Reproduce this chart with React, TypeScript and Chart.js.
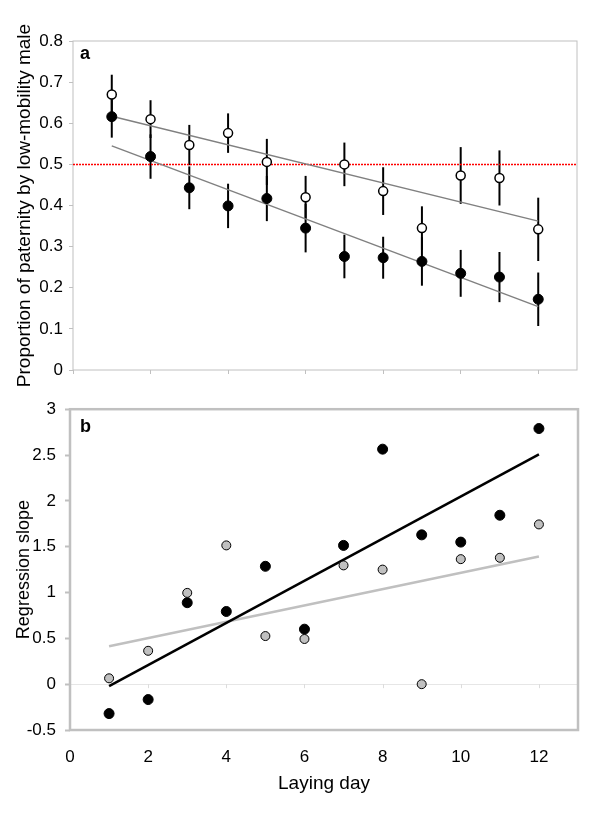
import React, { useEffect, useRef } from 'react';
import { Chart, registerables } from 'chart.js';

Chart.register(...registerables);

// ---------- data ----------
const days = [1, 2, 3, 4, 5, 6, 7, 8, 9, 10, 11, 12];

// panel a
const openMean = [0.670, 0.610, 0.547, 0.576, 0.506, 0.420, 0.500, 0.435, 0.345, 0.473, 0.467, 0.342];
const openErr = [0.048, 0.046, 0.049, 0.048, 0.056, 0.052, 0.053, 0.058, 0.053, 0.069, 0.067, 0.077];
const filledMean = [0.616, 0.519, 0.443, 0.399, 0.417, 0.345, 0.276, 0.273, 0.264, 0.235, 0.226, 0.172];
const filledErr = [0.051, 0.054, 0.052, 0.054, 0.055, 0.059, 0.053, 0.051, 0.059, 0.057, 0.061, 0.065];
const trendDays = [1, 12];
const openTrend = [0.617, 0.362];
const filledTrend = [0.545, 0.154];
const refLineX = [0, 13];
const refLineY = [0.5, 0.5];
const yTicksA = [0, 0.1, 0.2, 0.3, 0.4, 0.5, 0.6, 0.7, 0.8];

// panel b
const greySlope = [0.064, 0.364, 0.996, 1.514, 0.525, 0.493, 1.296, 1.25, 0.0, 1.364, 1.379, 1.743];
const blackSlope = [-0.321, -0.168, 0.889, 0.793, 1.286, 0.6, 1.514, 2.564, 1.629, 1.55, 1.843, 2.789];
const blackTrend = [-0.021, 2.507];
const greyTrend = [0.414, 1.393];
const yTicksB = [-0.5, 0, 0.5, 1, 1.5, 2, 2.5, 3];
const xTicks = [0, 2, 4, 6, 8, 10, 12];

const FONT = '"Liberation Sans", Arial, Helvetica, sans-serif';

const pts = (xs: number[], ys: number[]) => xs.map((x, i) => ({ x, y: ys[i] }));

function boxPlugin(width: number, label: string, dx: number, dy: number) {
  return {
    id: 'box_' + label,
    beforeDatasetsDraw(chart: any) {
      const { ctx, chartArea } = chart;
      ctx.save();
      ctx.strokeStyle = '#c0c0c0';
      ctx.lineWidth = width;
      ctx.strokeRect(chartArea.left, chartArea.top, chartArea.right - chartArea.left, chartArea.bottom - chartArea.top);
      ctx.fillStyle = '#000';
      ctx.font = 'bold 18px ' + FONT;
      ctx.textBaseline = 'alphabetic';
      ctx.textAlign = 'left';
      ctx.fillText(label, chartArea.left + dx, chartArea.top + dy);
      ctx.restore();
    },
  };
}

const errorBarPlugin = {
  id: 'errorBars',
  beforeDatasetsDraw(chart: any) {
    const { ctx } = chart;
    const xs = chart.scales.x;
    const ys = chart.scales.y;
    ctx.save();
    ctx.strokeStyle = '#000';
    ctx.lineWidth = 2;
    const series = [
      { m: openMean, e: openErr },
      { m: filledMean, e: filledErr },
    ];
    series.forEach((s) => {
      days.forEach((d, i) => {
        const px = xs.getPixelForValue(d);
        ctx.beginPath();
        ctx.moveTo(px, ys.getPixelForValue(s.m[i] - s.e[i]));
        ctx.lineTo(px, ys.getPixelForValue(s.m[i] + s.e[i]));
        ctx.stroke();
      });
    });
    ctx.restore();
  },
};

const zeroAxisPlugin = {
  id: 'zeroAxis',
  beforeDatasetsDraw(chart: any) {
    const { ctx } = chart;
    const xs = chart.scales.x;
    const ys = chart.scales.y;
    const y0 = ys.getPixelForValue(0);
    ctx.save();
    ctx.strokeStyle = '#dcdcdc';
    ctx.lineWidth = 1;
    xTicks.forEach((v) => {
      if (v === 0) return;
      const px = Math.round(xs.getPixelForValue(v)) + 0.5;
      ctx.beginPath();
      ctx.moveTo(px, y0);
      ctx.lineTo(px, y0 + 4);
      ctx.stroke();
    });
    ctx.restore();
  },
};

function TopChart() {
  const ref = useRef<HTMLCanvasElement>(null);
  useEffect(() => {
    const chart = new Chart(ref.current as HTMLCanvasElement, {
      type: 'scatter',
      data: {
        datasets: [
          {
            label: 'open',
            data: pts(days, openMean),
            pointRadius: 4.5,
            pointBackgroundColor: '#ffffff',
            pointBorderColor: '#000000',
            pointBorderWidth: 1.5,
            order: 0,
          },
          {
            label: 'filled',
            data: pts(days, filledMean),
            pointRadius: 5,
            pointBackgroundColor: '#000000',
            pointBorderColor: '#000000',
            pointBorderWidth: 1,
            order: 1,
          },
          {
            label: 'openTrend',
            data: pts(trendDays, openTrend),
            showLine: true,
            borderColor: '#808080',
            borderWidth: 1.5,
            pointRadius: 0,
            order: 2,
          },
          {
            label: 'filledTrend',
            data: pts(trendDays, filledTrend),
            showLine: true,
            borderColor: '#808080',
            borderWidth: 1.5,
            pointRadius: 0,
            order: 3,
          },
          {
            label: 'half',
            data: pts(refLineX, refLineY),
            showLine: true,
            borderColor: '#ff0000',
            borderWidth: 1.5,
            borderDash: [2, 1],
            pointRadius: 0,
            order: 4,
          },
        ],
      } as any,
      options: {
        animation: false,
        responsive: false,
        events: [],
        layout: { padding: { top: 41, right: 23, left: 0, bottom: 0 } },
        plugins: { legend: { display: false }, tooltip: { enabled: false } },
        scales: {
          x: {
            type: 'linear',
            min: 0,
            max: 13,
            afterBuildTicks: (s: any) => {
              s.ticks = xTicks.map((v) => ({ value: v }));
            },
            ticks: { display: false },
            grid: { drawOnChartArea: false, drawTicks: true, tickLength: 4, color: '#c0c0c0', lineWidth: 1 },
            border: { display: false },
            afterFit: (s: any) => {
              s.height = 20;
            },
          },
          y: {
            type: 'linear',
            min: 0,
            max: 0.8,
            afterBuildTicks: (s: any) => {
              s.ticks = yTicksA.map((v) => ({ value: v }));
            },
            ticks: {
              font: { family: FONT, size: 17 },
              color: '#000',
              padding: 6,
              callback: (v: any) => String(v),
            },
            grid: { drawOnChartArea: false, drawTicks: true, tickLength: 4, color: '#c0c0c0', lineWidth: 1 },
            border: { display: false },
            title: {
              display: true,
              text: 'Proportion of paternity by low-mobility male',
              font: { family: FONT, size: 19 },
              color: '#000',
              padding: { top: 13, bottom: 0 },
            },
            afterFit: (s: any) => {
              s.width = 73;
            },
          },
        },
      } as any,
      plugins: [boxPlugin(1, 'a', 7, 18), errorBarPlugin],
    });
    return () => chart.destroy();
  }, []);
  return <canvas ref={ref} width={600} height={390} style={{ display: 'block', width: 600, height: 390 }} />;
}

function BottomChart() {
  const ref = useRef<HTMLCanvasElement>(null);
  useEffect(() => {
    const chart = new Chart(ref.current as HTMLCanvasElement, {
      type: 'scatter',
      data: {
        datasets: [
          {
            label: 'black',
            data: pts(days, blackSlope),
            pointRadius: 5,
            pointBackgroundColor: '#000000',
            pointBorderColor: '#000000',
            pointBorderWidth: 1,
            order: 1,
          },
          {
            label: 'grey',
            data: pts(days, greySlope),
            pointRadius: 4.5,
            pointBackgroundColor: '#c0c0c0',
            pointBorderColor: '#000000',
            pointBorderWidth: 1,
            order: 0,
          },
          {
            label: 'blackTrend',
            data: pts(trendDays, blackTrend),
            showLine: true,
            borderColor: '#000000',
            borderWidth: 2.5,
            pointRadius: 0,
            order: 2,
          },
          {
            label: 'greyTrend',
            data: pts(trendDays, greyTrend),
            showLine: true,
            borderColor: '#c0c0c0',
            borderWidth: 2.5,
            pointRadius: 0,
            order: 3,
          },
        ],
      } as any,
      options: {
        animation: false,
        responsive: false,
        events: [],
        layout: { padding: { top: 14, right: 22, left: 0, bottom: 0 } },
        plugins: { legend: { display: false }, tooltip: { enabled: false } },
        scales: {
          x: {
            type: 'linear',
            min: 0,
            max: 13,
            afterBuildTicks: (s: any) => {
              s.ticks = xTicks.map((v) => ({ value: v }));
            },
            ticks: {
              font: { family: FONT, size: 17 },
              color: '#000',
              padding: 17,
              callback: (v: any) => String(v),
            },
            grid: { display: false, drawTicks: false },
            border: { display: false },
            title: {
              display: true,
              text: 'Laying day',
              font: { family: FONT, size: 19 },
              color: '#000',
              padding: { top: 0, bottom: 18 },
            },
            afterFit: (s: any) => {
              s.height = 83;
            },
          },
          y: {
            type: 'linear',
            min: -0.5,
            max: 3,
            afterBuildTicks: (s: any) => {
              s.ticks = yTicksB.map((v) => ({ value: v }));
            },
            ticks: {
              font: { family: FONT, size: 17 },
              color: '#000',
              padding: 9,
              callback: (v: any) => String(v),
            },
            grid: {
              drawOnChartArea: true,
              drawTicks: true,
              tickLength: 5,
              tickWidth: 2,
              tickColor: '#c0c0c0',
              lineWidth: 1,
              color: (c: any) => (c.tick && c.tick.value === 0 ? '#e6e6e6' : 'rgba(0,0,0,0)'),
            },
            border: { display: false },
            title: {
              display: true,
              text: 'Regression slope',
              font: { family: FONT, size: 18 },
              color: '#000',
              padding: { top: 13, bottom: 0 },
            },
            afterFit: (s: any) => {
              s.width = 70;
            },
          },
        },
      } as any,
      plugins: [zeroAxisPlugin, boxPlugin(2.5, 'b', 10, 23)],
    });
    return () => chart.destroy();
  }, []);
  return <canvas ref={ref} width={600} height={423} style={{ display: 'block', width: 600, height: 423 }} />;
}

export default function App() {
  return (
    <div style={{ position: 'absolute', left: 0, top: 0, width: 600, height: 813, background: '#fff' }}>
      <TopChart />
      <BottomChart />
    </div>
  );
}
